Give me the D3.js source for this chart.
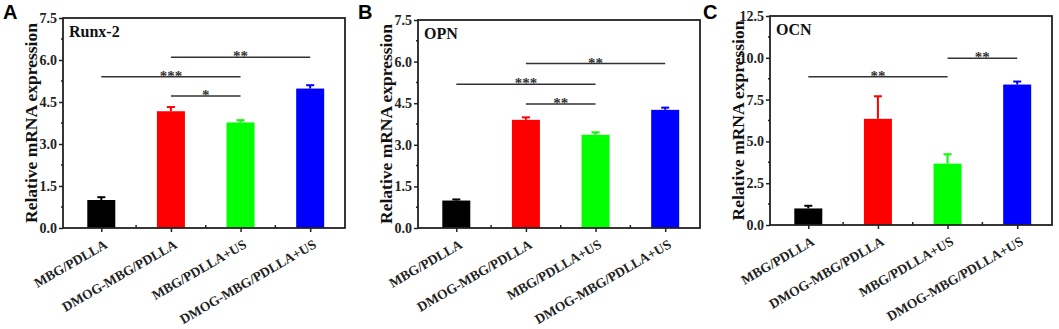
<!DOCTYPE html>
<html>
<head>
<meta charset="utf-8">
<script src="https://cdn.jsdelivr.net/npm/d3@7"></script>
<style>
  body { margin: 0; background: #fff; }
  svg { display: block; }
</style>
</head>
<body>
<div id="chart"></div>
<script>
const categories = ['MBG/PDLLA', 'DMOG-MBG/PDLLA', 'MBG/PDLLA+US', 'DMOG-MBG/PDLLA+US']
const barColors = ['#000000', '#ff0000', '#00ff00', '#0000ff']

const runx2Mean = [1.0, 4.17, 3.77, 4.98]
const runx2Err = [0.1, 0.15, 0.08, 0.12]
const opnMean = [0.99, 3.9, 3.36, 4.26]
const opnErr = [0.04, 0.09, 0.09, 0.08]
const ocnMean = [0.99, 6.35, 3.67, 8.4]
const ocnErr = [0.16, 1.35, 0.56, 0.18]

const runx2Ticks = [0, 1.5, 3.0, 4.5, 6.0, 7.5]
const opnTicks = [0, 1.5, 3.0, 4.5, 6.0, 7.5]
const ocnTicks = [0, 2.5, 5.0, 7.5, 10.0, 12.5]

// significance brackets: [from index, to index, y value, label]
const runx2Sig = [[1, 3, 6.1, '**'], [0, 2, 5.4, '***'], [1, 2, 4.71, '*']]
const opnSig = [[1, 3, 5.93, '**'], [0, 2, 5.18, '***'], [1, 2, 4.47, '**']]
const ocnSig = [[0, 2, 8.87, '**'], [2, 3, 9.98, '**']]

const width = 1059
const height = 329
const serif = '"Liberation Serif", "Times New Roman", serif'

const svg = d3.select('#chart').append('svg')
  .attr('width', width)
  .attr('height', height)

const panels = [
  { letter: 'A', lx: 3, title: 'Runx-2', mean: runx2Mean, err: runx2Err, ticks: runx2Ticks, sig: runx2Sig,
    left: 63, right: 345, top: 18, bottom: 228 },
  { letter: 'B', lx: 358, title: 'OPN', mean: opnMean, err: opnErr, ticks: opnTicks, sig: opnSig,
    left: 418, right: 700, top: 20, bottom: 228 },
  { letter: 'C', lx: 703, title: 'OCN', mean: ocnMean, err: ocnErr, ticks: ocnTicks, sig: ocnSig,
    left: 770, right: 1052, top: 16, bottom: 225 }
]

const drawPanel = p => {
  const g = svg.append('g')
  const ymax = p.ticks[p.ticks.length - 1]
  const step = p.ticks[1] - p.ticks[0]

  const x = d3.scaleLinear()
    .domain([0.45, 4.5])
    .range([p.left, p.right])

  const y = d3.scaleLinear()
    .domain([0, ymax])
    .range([p.bottom, p.top])

  const barW = 28
  const data = categories.map((c, i) => ({ c, i, v: p.mean[i], e: p.err[i], color: barColors[i] }))

  // bars
  g.selectAll('rect.bar').data(data).join('rect')
    .attr('class', 'bar')
    .attr('x', d => x(d.i + 1) - barW / 2)
    .attr('width', barW)
    .attr('y', d => y(d.v))
    .attr('height', d => y(0) - y(d.v))
    .attr('fill', d => d.color)

  // error bars (upper only)
  g.selectAll('line.err').data(data).join('line')
    .attr('class', 'err')
    .attr('x1', d => x(d.i + 1)).attr('x2', d => x(d.i + 1))
    .attr('y1', d => y(d.v)).attr('y2', d => y(d.v + d.e))
    .attr('stroke', d => d.color)
    .attr('stroke-width', 2)
  g.selectAll('line.cap').data(data).join('line')
    .attr('class', 'cap')
    .attr('x1', d => x(d.i + 1) - 4).attr('x2', d => x(d.i + 1) + 4)
    .attr('y1', d => y(d.v + d.e)).attr('y2', d => y(d.v + d.e))
    .attr('stroke', d => d.color)
    .attr('stroke-width', 2)

  // significance lines
  const sg = g.selectAll('g.sig').data(p.sig).join('g').attr('class', 'sig')
  sg.append('line')
    .attr('x1', d => x(d[0] + 1)).attr('x2', d => x(d[1] + 1))
    .attr('y1', d => y(d[2])).attr('y2', d => y(d[2]))
    .attr('stroke', '#333')
    .attr('stroke-width', 1.5)
  sg.append('text')
    .attr('x', d => (x(d[0] + 1) + x(d[1] + 1)) / 2)
    .attr('y', d => y(d[2]) + 4)
    .attr('text-anchor', 'middle')
    .attr('font-family', serif)
    .attr('font-weight', 'bold')
    .attr('font-size', 15)
    .attr('fill', '#333')
    .text(d => d[3])

  // y axis
  const yAxis = d3.axisLeft(y)
    .tickValues(p.ticks)
    .tickSize(4)
    .tickPadding(2)
    .tickFormat(d3.format('.1f'))
  g.append('g')
    .attr('transform', `translate(${p.left},0)`)
    .call(yAxis)
    .call(a => a.select('.domain').remove())
    .call(a => a.selectAll('line').attr('stroke', '#222').attr('stroke-width', 1.5))
    .call(a => a.selectAll('text')
      .attr('font-family', serif).attr('font-weight', 'bold').attr('font-size', 14).attr('fill', '#222'))

  // minor y ticks
  const minorY = p.ticks.slice(0, -1).map(t => t + step / 2)
  g.selectAll('line.minory').data(minorY).join('line')
    .attr('class', 'minory')
    .attr('x1', p.left - 2).attr('x2', p.left)
    .attr('y1', d => y(d)).attr('y2', d => y(d))
    .attr('stroke', '#222').attr('stroke-width', 1.5)

  // x axis ticks
  const xAxis = d3.axisBottom(x)
    .tickValues([1, 2, 3, 4])
    .tickSize(4)
    .tickFormat('')
  g.append('g')
    .attr('transform', `translate(0,${p.bottom})`)
    .call(xAxis)
    .call(a => a.select('.domain').remove())
    .call(a => a.selectAll('line').attr('stroke', '#222').attr('stroke-width', 1.5))

  // minor x ticks (inward)
  g.selectAll('line.minorx').data([1.5, 2.5, 3.5]).join('line')
    .attr('class', 'minorx')
    .attr('x1', d => x(d)).attr('x2', d => x(d))
    .attr('y1', p.bottom).attr('y2', p.bottom - 3)
    .attr('stroke', '#222').attr('stroke-width', 1.5)

  // x labels
  g.selectAll('text.xl').data(data).join('text')
    .attr('class', 'xl')
    .attr('transform', d => `translate(${x(d.i + 1) + 7},${p.bottom + 19}) rotate(-30)`)
    .attr('text-anchor', 'end')
    .attr('font-family', serif)
    .attr('font-weight', 'bold')
    .attr('font-size', 13.5)
    .attr('fill', '#222')
    .text(d => d.c)

  // frame
  g.append('rect')
    .attr('x', p.left).attr('y', p.top)
    .attr('width', p.right - p.left).attr('height', p.bottom - p.top)
    .attr('fill', 'none')
    .attr('stroke', '#222')
    .attr('stroke-width', 1.8)

  // y label
  g.append('text')
    .attr('transform', `translate(${p.left - 26},${(p.top + p.bottom) / 2}) rotate(-90)`)
    .attr('text-anchor', 'middle')
    .attr('font-family', serif)
    .attr('font-weight', 'bold')
    .attr('font-size', 17.5)
    .attr('fill', '#111')
    .text('Relative mRNA expression')

  // panel title
  g.append('text')
    .attr('x', p.left + 6).attr('y', p.top + 19)
    .attr('font-family', serif)
    .attr('font-weight', 'bold')
    .attr('font-size', 16)
    .attr('fill', '#111')
    .text(p.title)

  // panel letter
  svg.append('text')
    .attr('x', p.lx).attr('y', 19)
    .attr('font-family', '"Liberation Sans", Arial, sans-serif')
    .attr('font-weight', 'bold')
    .attr('font-size', 20)
    .attr('fill', '#000')
    .text(p.letter)
}

panels.forEach(drawPanel)
</script>
</body>
</html>
